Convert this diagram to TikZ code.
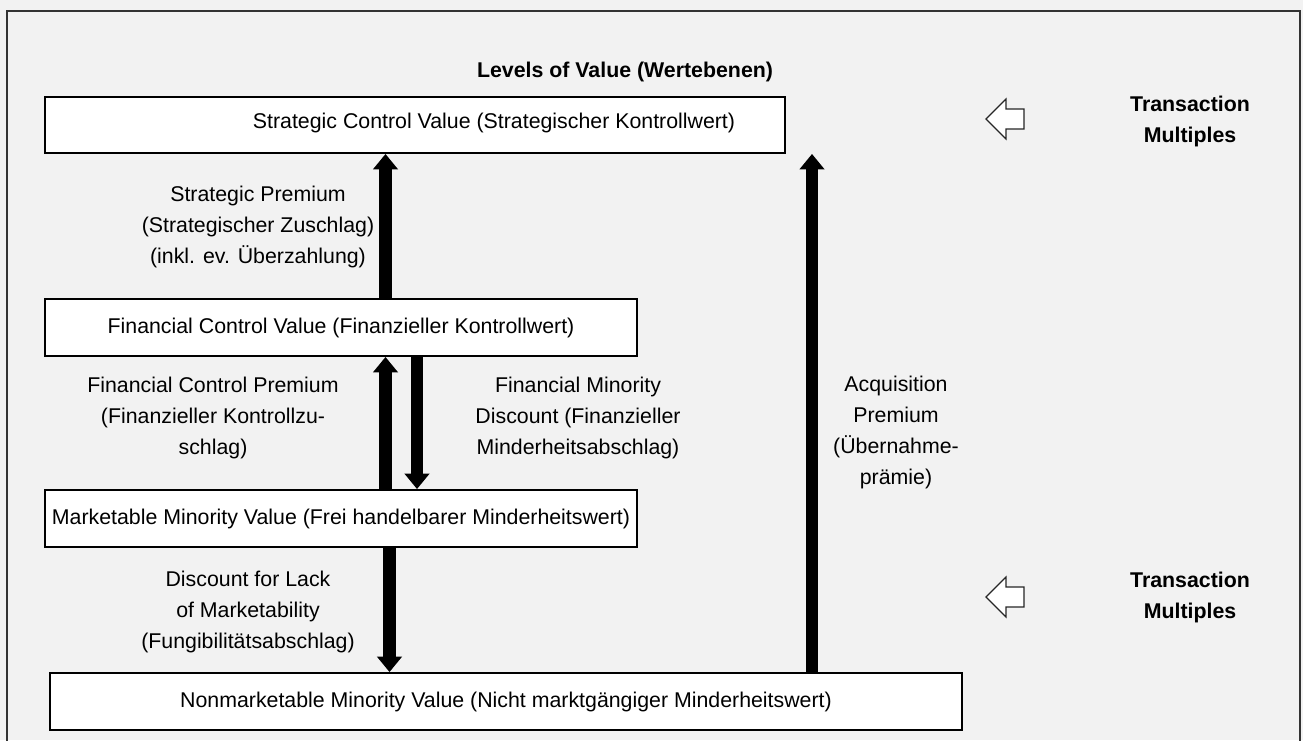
\documentclass[tikz,border=0pt]{standalone}
\usepackage{fontspec}
\setmainfont{Liberation Sans}
\usetikzlibrary{arrows.meta}
\begin{document}
\begin{tikzpicture}[x=0.75pt,y=-0.75pt,
  txt/.style={font=\fontsize{16}{23.25}\selectfont, align=center, inner sep=0pt},
  btxt/.style={font=\fontsize{16}{23.25}\selectfont\bfseries, align=center, inner sep=0pt},
  valbox/.style={draw=black, line width=1.4pt, fill=white, inner sep=0pt, font=\fontsize{16}{23.25}\selectfont},
  bigarrow/.style={line width=9.5pt, -{Triangle[width=18pt,length=11.5pt]}},
  hollow/.style={draw=black!85, line width=0.9pt, fill=white, line join=miter},
  frame/.style={draw=black!80, line width=1.6pt}]
\fill[black!5] (0,0) rectangle (1303,740);
\useasboundingbox (0,0) rectangle (1303,740);
\draw[frame] (7,760) -- (7,11) -- (1300,11) -- (1300,760);

\node[btxt] (title) at (625,72) {Levels of Value (Wertebenen)};

\node[valbox, minimum width=555pt, minimum height=42pt] (b1) at (415,125) {};
\node[txt] (b1t) at (494,123) {Strategic Control Value (Strategischer Kontrollwert)};
\node[valbox, minimum width=444pt, minimum height=42.75pt] (b2) at (341,327.5) {Financial Control Value (Finanzieller Kontrollwert)};
\node[valbox, minimum width=444pt, minimum height=42.75pt] (b3) at (341,518.5) {Marketable Minority Value (Frei handelbarer Minderheitswert)};
\node[valbox, minimum width=684pt, minimum height=42.75pt] (b4) at (506,701.5) {Nonmarketable Minority Value (Nicht marktgängiger Minderheitswert)};

\coordinate (xa) at (385.5,0);
\coordinate (xb) at (417,0);
\coordinate (xc) at (389.5,0);
\coordinate (xd) at (812,0);

\draw[bigarrow] (b2.north -| xa) -- (b1.south -| xa);
\draw[bigarrow] (b3.north -| xa) -- (b2.south -| xa);
\draw[bigarrow] (b2.south -| xb) -- (b3.north -| xb);
\draw[bigarrow] (b3.south -| xc) -- (b4.north -| xc);
\draw[bigarrow] (b4.north -| xd) -- (b1.south -| xd);

\node[txt] (l1) at (258,227) {Strategic Premium\\(Strategischer Zuschlag)\\(inkl. ev. Überzahlung)};
\node[txt] (l2) at (213,418) {Financial Control Premium\\(Finanzieller Kontrollzu-\\schlag)};
\node[txt] (l3) at (578,418) {Financial Minority\\Discount (Finanzieller\\Minderheitsabschlag)};
\node[txt] (l4) at (896,432.5) {Acquisition\\Premium\\(Übernahme-\\prämie)};
\node[txt] (l5) at (248,612) {Discount for Lack\\of Marketability\\(Fungibilitätsabschlag)};

\draw[hollow] (986,119) -- (1006,99) -- (1006,109) -- (1024,109) -- (1024,129) -- (1006,129) -- (1006,139) -- cycle;
\draw[hollow] (986,597) -- (1006,577) -- (1006,587) -- (1024,587) -- (1024,607) -- (1006,607) -- (1006,617) -- cycle;
\node[btxt] (tm1) at (1190,121) {Transaction\\Multiples};
\node[btxt] (tm2) at (1190,597) {Transaction\\Multiples};
\end{tikzpicture}
\end{document}
